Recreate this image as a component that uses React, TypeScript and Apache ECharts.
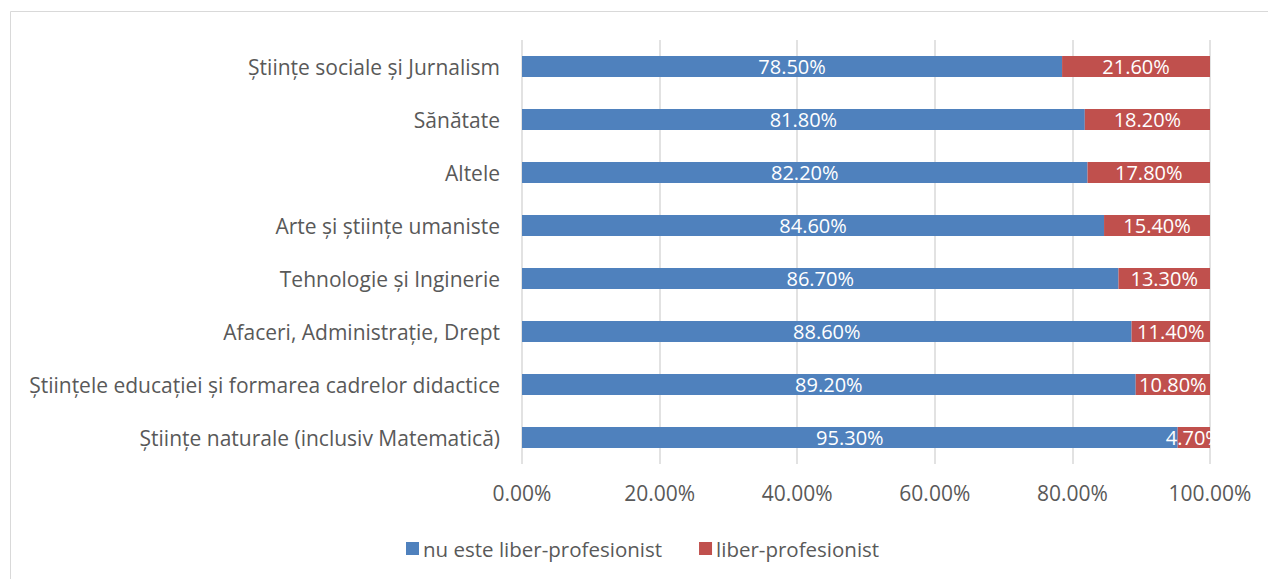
import React, { useEffect, useRef } from "react";
import * as echarts from "echarts";

const categories = [
  "Științe sociale și Jurnalism",
  "Sănătate",
  "Altele",
  "Arte și științe umaniste",
  "Tehnologie și Inginerie",
  "Afaceri, Administrație, Drept",
  "Științele educației și formarea cadrelor didactice",
  "Științe naturale (inclusiv Matematică)",
];
const nuEsteLiber = [78.5, 81.8, 82.2, 84.6, 86.7, 88.6, 89.2, 95.3];
const liberProf = [21.6, 18.2, 17.8, 15.4, 13.3, 11.4, 10.8, 4.7];
const xTicks = [0, 20, 40, 60, 80, 100];

const FONT = "'Open Sans', Lato, sans-serif";
const FS = 21;
const FS_LABEL = 20;

export default function App() {
  const ref = useRef<HTMLDivElement>(null);
  useEffect(() => {
    document.body.style.margin = "0";
    const chart = echarts.init(ref.current!, null, { renderer: "svg" });
    chart.setOption({
      animation: false,
      textStyle: { fontFamily: FONT },
      graphic: [
        {
          type: "rect",
          shape: { x: 10.5, y: 11.5, width: 1300, height: 700 },
          style: { fill: "none", stroke: "#D9D9D9", lineWidth: 1 },
          silent: true,
        },
      ],
      grid: { left: 522, right: 58, top: 40, bottom: 115 },
      legend: {
        bottom: 20,
        left: 406,
        itemWidth: 13,
        itemHeight: 13,
        itemGap: 37,
        padding: 0,
        icon: "rect",
        textStyle: { color: "#595959", fontSize: 20.5, fontFamily: FONT, padding: [0, 0, 0, -1] },
        data: ["nu este liber-profesionist", "liber-profesionist"],
      },
      xAxis: {
        type: "value",
        min: 0,
        max: 100,
        interval: 20,
        axisLine: { show: false },
        axisTick: { show: false },
        splitLine: { lineStyle: { color: "#D9D9D9", width: 1.5 } },
        axisLabel: {
          color: "#595959",
          fontSize: FS,
          margin: 18,
          fontFamily: FONT,
          formatter: (v: number) => (xTicks.includes(v) ? v.toFixed(2) + "%" : ""),
        },
      },
      yAxis: {
        type: "category",
        inverse: true,
        data: categories,
        axisLine: { show: false },
        axisTick: { show: false },
        axisLabel: { color: "#595959", fontSize: FS, margin: 22, fontFamily: FONT },
      },
      series: [
        {
          name: "nu este liber-profesionist",
          type: "bar",
          stack: "total",
          data: nuEsteLiber,
          barWidth: 21,
          itemStyle: { color: "#4F81BD" },
          label: {
            show: true,
            position: "inside",
            color: "#FFFFFF",
            fontSize: FS_LABEL,
            fontFamily: FONT,
            formatter: (p: any) => p.value.toFixed(2) + "%",
          },
        },
        {
          name: "liber-profesionist",
          type: "bar",
          stack: "total",
          data: liberProf,
          barWidth: 21,
          itemStyle: { color: "#C0504D" },
          label: {
            show: true,
            position: "inside",
            color: "#FFFFFF",
            fontSize: FS_LABEL,
            fontFamily: FONT,
            formatter: (p: any) => p.value.toFixed(2) + "%",
          },
        },
      ],
    });
    return () => chart.dispose();
  }, []);
  return (
    <div
      ref={ref}
      style={{ position: "absolute", left: 0, top: 0, width: 1268, height: 579, background: "#fff" }}
    />
  );
}
